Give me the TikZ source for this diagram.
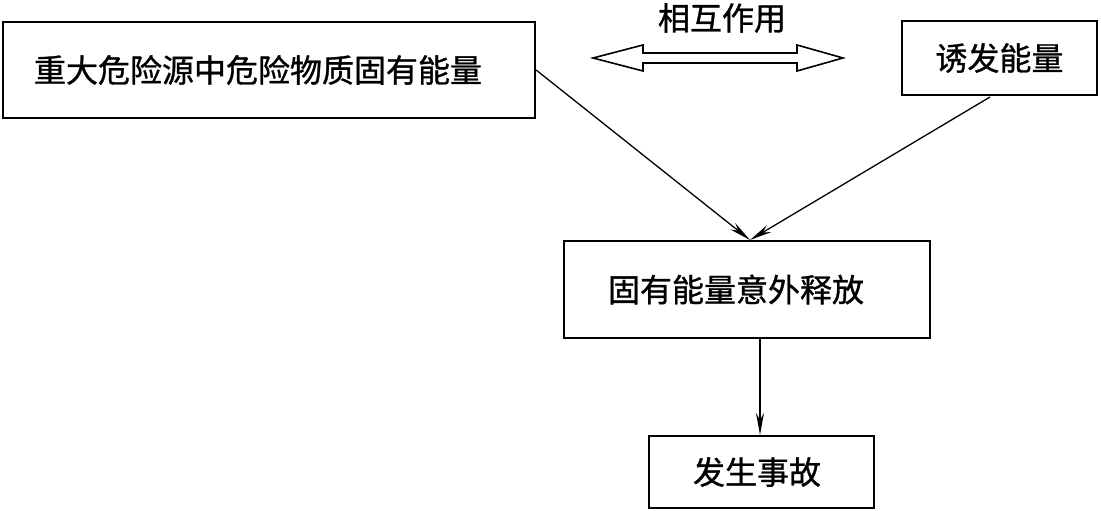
\documentclass[tikz,border=0pt]{standalone}
\usepackage{fontspec}
\newfontfamily\cjk[FakeBold=1]{Noto Sans CJK SC}
\usetikzlibrary{arrows.meta}
\tikzset{
  box/.style={draw, line width=2.2bp, rectangle, inner ysep=0pt, font=\cjk\fontsize{32bp}{36bp}\selectfont, align=left},
  conn/.style={line width=1.3bp, -{Stealth[length=22bp,width=8bp]}},
  lbl/.style={font=\cjk\fontsize{32bp}{36bp}\selectfont, inner sep=0pt}
}
\begin{document}
\begin{tikzpicture}[x=1bp,y=-1bp]
\useasboundingbox (0,0) rectangle (1101,511);
\node[box, minimum height=96bp, text width=470bp, inner xsep=31bp] (b1) at (269,70) {\raisebox{-3bp}{重大危险源中危险物质固有能量}};
\node[box, minimum width=195bp, minimum height=74bp, inner xsep=0pt] (b2) at (999.5,58) {\raisebox{-2bp}{诱发能量}};
\node[box, minimum height=97bp, text width=278bp, inner xsep=44bp] (b3) at (747,289.5) {\raisebox{-6bp}{固有能量意外释放}};
\node[box, minimum height=72bp, text width=137bp, inner xsep=44bp] (b4) at (761.5,472) {\raisebox{-2bp}{发生事故}};
\node[lbl] (l1) at (722,18) {相互作用};
\coordinate (apex) at (750,240);
\coordinate (s2) at (990,97);
\draw[conn] (b1.east |- 0,70) -- (apex);
\draw[conn] (s2) -- (apex);
\draw[conn] (760,338) -- (b4.north -| 760,0);
\draw[line width=1.6bp, line join=miter]
  (593,58) -- (643,45) -- (643,53) -- (797,53) -- (797,45) -- (843,58)
  -- (797,71) -- (797,63) -- (643,63) -- (643,71) -- cycle;
\end{tikzpicture}
\end{document}
